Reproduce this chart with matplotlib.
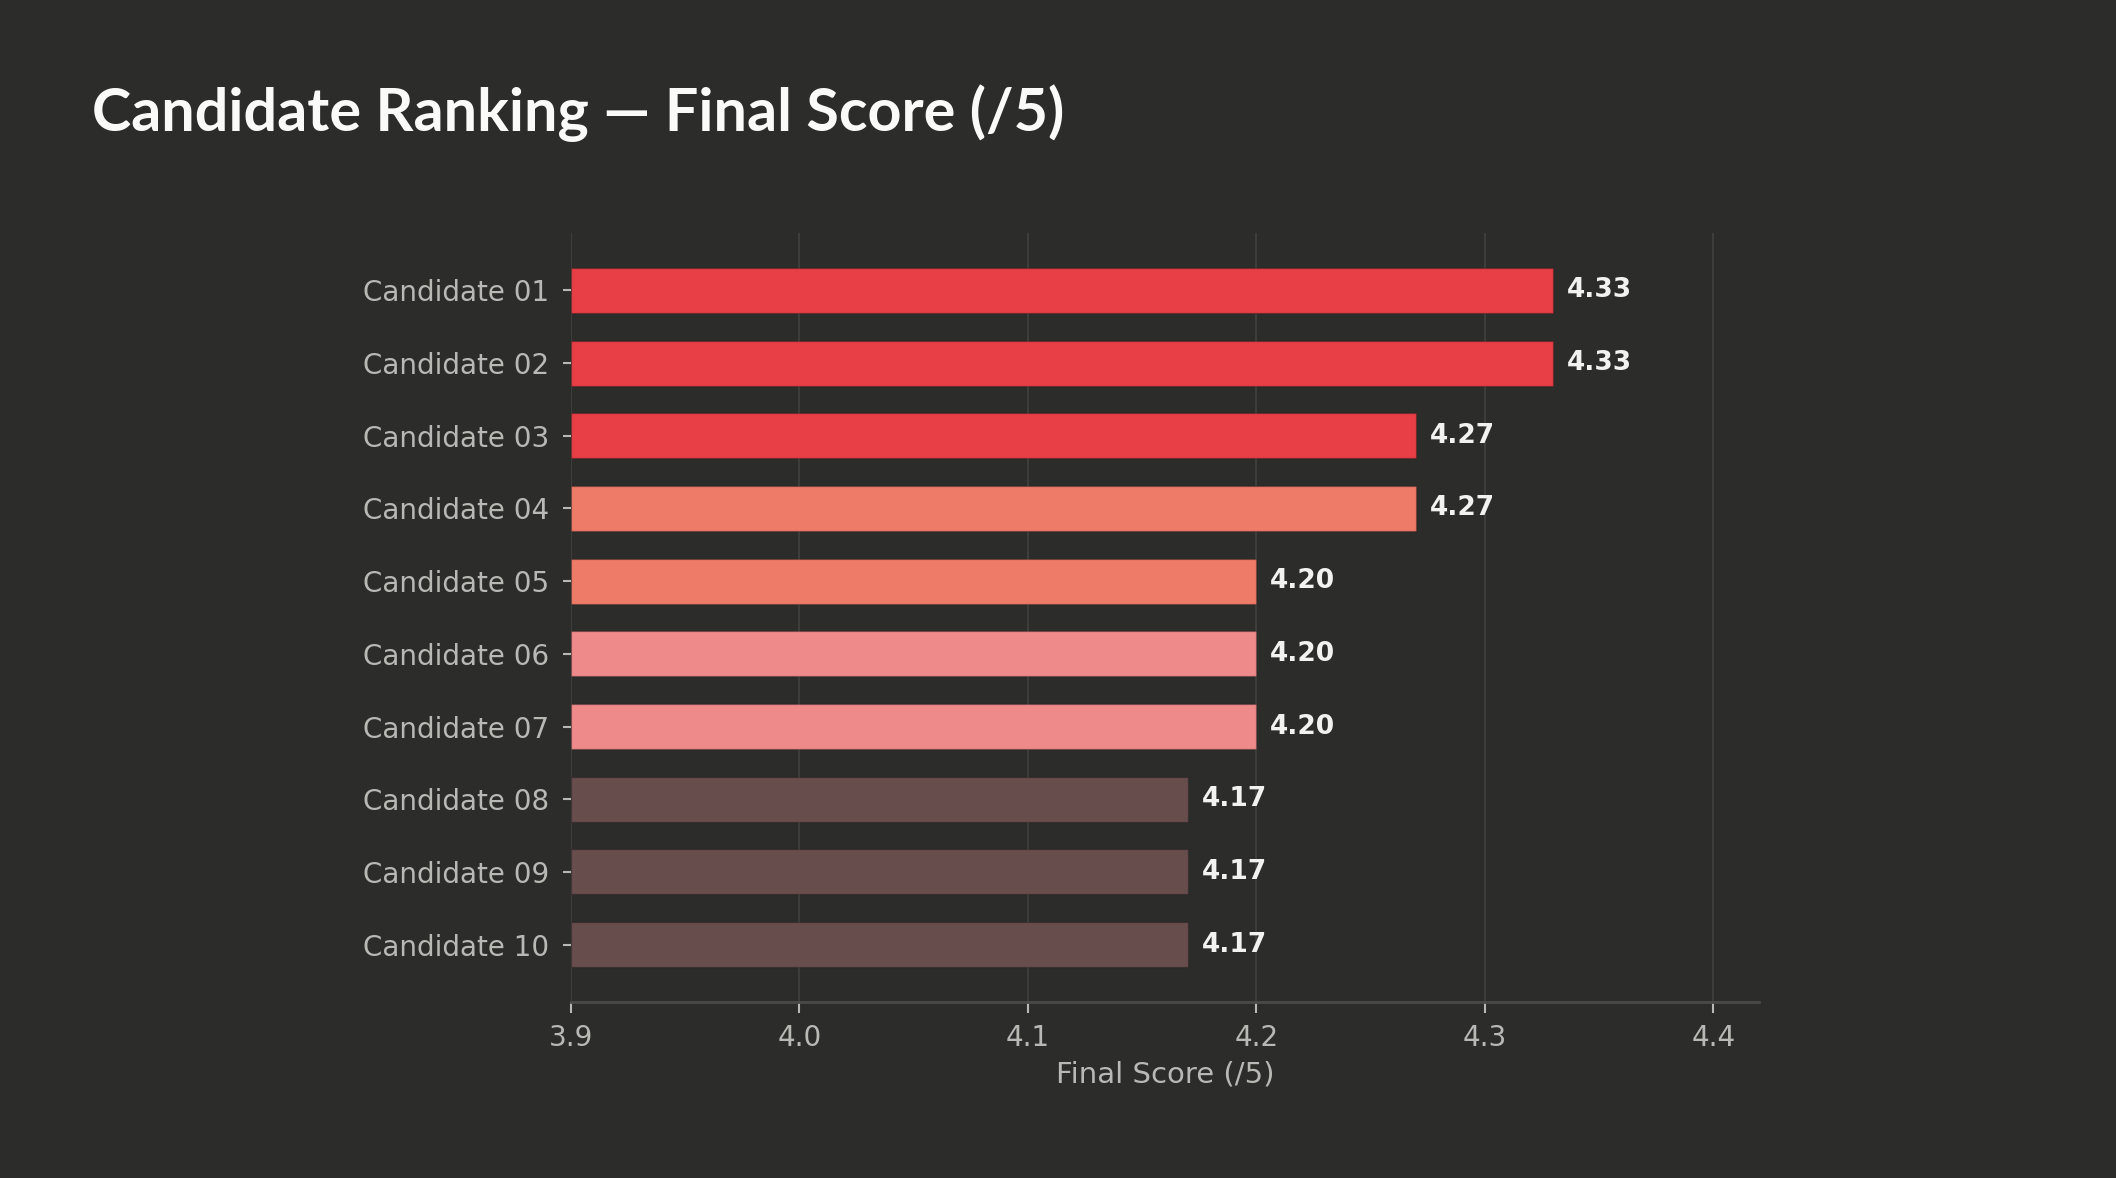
import matplotlib
matplotlib.use("Agg")
import matplotlib.pyplot as plt
import numpy as np

BG = "#2c2c2a"

candidates = [f"Candidate {i:02d}" for i in range(1, 11)]
scores = [4.33, 4.33, 4.27, 4.27, 4.20, 4.20, 4.20, 4.17, 4.17, 4.17]
bar_colors = ["#e83e46", "#e83e46", "#e83e46",
              "#ee7a68", "#ee7a68",
              "#ef8a8a", "#ef8a8a",
              "#674d4c", "#674d4c", "#674d4c"]
x_ticks = [3.9, 4.0, 4.1, 4.2, 4.3, 4.4]

fig = plt.figure(figsize=(21.16, 11.78), dpi=100, facecolor=BG)
ax = fig.add_axes([571 / 2116, 1 - 1002 / 1178, (1759 - 571) / 2116, (1002 - 233) / 1178])
ax.set_facecolor(BG)

y = np.arange(len(candidates))
ax.barh(y, np.array(scores) - 3.9, left=3.9, height=0.62, color=bar_colors,
        edgecolor="#00000030", linewidth=1.0, zorder=2)
ax.invert_yaxis()

for yi, s in zip(y, scores):
    ax.text(s + 0.006, yi, f"{s:.2f}", va="center", ha="left",
            fontsize=19, fontweight="bold", color="#f2f2f0", zorder=3)

ax.set_xlim(3.9, 4.42)
ax.set_xticks(x_ticks)
ax.set_xticklabels([f"{t:.1f}" for t in x_ticks])
ax.set_yticks(y)
ax.set_yticklabels(candidates)

ax.grid(axis="x", color="#3d3d3b", linewidth=1.5, zorder=0)
ax.set_axisbelow(True)
for side in ("top", "right", "left"):
    ax.spines[side].set_visible(False)
ax.spines["bottom"].set_color("#4a4a48")
ax.spines["bottom"].set_linewidth(2)

ax.tick_params(axis="x", colors="#b8b8b4", labelsize=20, length=8, width=1.5, pad=8)
ax.tick_params(axis="y", colors="#b8b8b4", labelsize=20, length=6, width=1.5, pad=10)
ax.set_xlabel("Final Score (/5)", fontsize=21, color="#b8b8b4", labelpad=6)

fig.text(92 / 2116, 1 - 131 / 1178, "Candidate Ranking — Final Score (/5)",
         fontsize=42.7, fontweight="bold", family=["Lato", "DejaVu Sans"],
         color="#fafaf8", ha="left", va="baseline")

fig.savefig("out.png", dpi=100, facecolor=BG)
